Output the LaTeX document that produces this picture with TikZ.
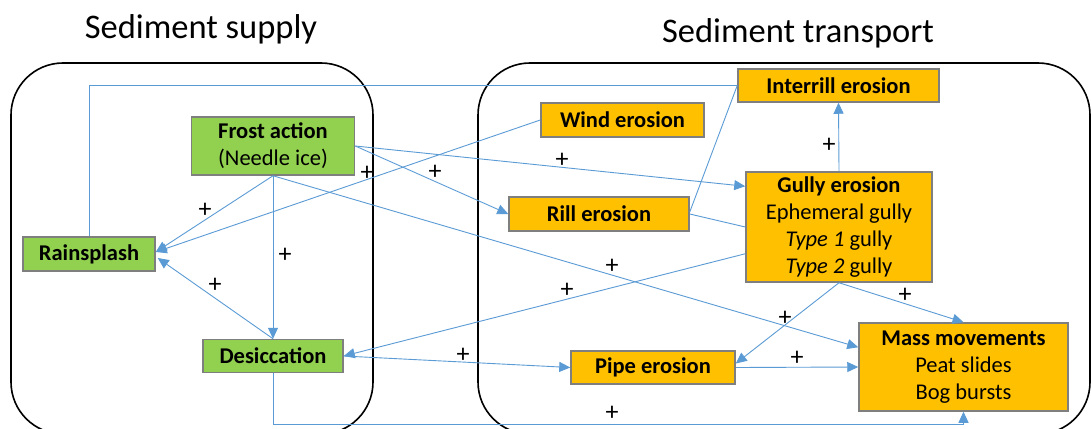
\documentclass[tikz,border=0pt]{standalone}
\usepackage{fontspec}
\setmainfont{Carlito}
\usetikzlibrary{arrows.meta,calc}
\definecolor{gbox}{HTML}{92D050}
\definecolor{obox}{HTML}{FFC000}
\definecolor{bord}{HTML}{7F7F7F}
\definecolor{conn}{HTML}{5B9BD5}
\tikzset{
  basebox/.style={draw=bord, line width=1.5pt, inner sep=0pt, align=center, font=\fontsize{22.5}{27}\selectfont},
  greenbox/.style={basebox, fill=gbox},
  orangebox/.style={basebox, fill=obox},
  link/.style={draw=conn, line width=0.9pt},
  arr/.style={link, -{Triangle[length=11pt,width=10pt]}},
  plus/.style={font=\fontsize{26}{28}\selectfont, inner sep=0pt},
  container/.style={draw=black, line width=1.6pt, rounded corners=52pt},
  title/.style={font=\fontsize{34.5}{38}\selectfont, inner sep=0pt}
}
\begin{document}
\begin{tikzpicture}[x=1pt,y=-1pt]
\clip (0,0) rectangle (1091,428);
\fill[white] (0,0) rectangle (1091,428);
% titles
\node[title] (t1) at (201,29) {Sediment supply};
\node[title] (t2) at (798,33) {Sediment transport};
% containers
\draw[container] (11,63) rectangle (373,434);
\draw[container] (478,63) rectangle (1090,434);
% nodes
\node[greenbox, minimum width=163pt, minimum height=58pt] (frost) at (273,146) {\textbf{Frost action}\\(Needle ice)};
\node[greenbox, minimum width=132pt, minimum height=34pt] (rain) at (89,254) {\textbf{Rainsplash}};
\node[greenbox, minimum width=140pt, minimum height=33pt] (desic) at (273,356) {\textbf{Desiccation}};
\node[orangebox, minimum width=163pt, minimum height=34pt] (wind) at (622.5,120) {\textbf{Wind erosion}};
\node[orangebox, minimum width=180pt, minimum height=34pt] (rill) at (599,214) {\textbf{Rill erosion}};
\node[orangebox, minimum width=201pt, minimum height=33pt] (inter) at (838.5,85.5) {\textbf{Interrill erosion}};
\node[orangebox, minimum width=186pt, minimum height=110pt] (gully) at (839,227) {\textbf{Gully erosion}\\Ephemeral gully\\\textit{Type 1} gully\\\textit{Type 2} gully};
\node[orangebox, minimum width=164pt, minimum height=33pt] (pipe) at (653,367.5) {\textbf{Pipe erosion}};
\node[orangebox, minimum width=209pt, minimum height=88pt] (mass) at (963.5,367) {\textbf{Mass movements}\\Peat slides\\Bog bursts};
% connectors
\draw[link] (rain.north) |- (inter.west);
\draw[arr] (frost.south) -- ($(rain.east)+(0,-2)$);
\draw[arr] (wind.west) -- ($(rain.east)+(0,-2)$);
\draw[arr] (frost.south) -- (desic.north);
\draw[arr] (desic.north) -- ($(rain.east)+(2,4)$);
\draw[arr] (frost.east) -- ($(gully.north west)+(0,15)$);
\draw[arr] (frost.east) -- (rill.west);
\draw[arr] (frost.south) -- ($(mass.north west)+(0,25)$);
\draw[link] ($(rill.east)+(0,-2)$) -- (inter.west);
\draw[link] (rill.east) -- (gully.west);
\draw[arr] (gully.south) -- (mass.north);
\draw[arr] (gully.south) -- ($(pipe.east)+(0,-4)$);
\draw[arr] ($(gully.south west)+(0,-29)$) -- (desic.east);
\draw[arr] (desic.east) -- (pipe.west);
\draw[arr] (pipe.east) -- (mass.west);
\draw[arr] (desic.south) -- ++(0,51) -| (mass.south);
\draw[arr] (gully.north) -- (inter.south);
% plus labels
\node[plus] (p1) at (205,210) {+};
\node[plus] (p2) at (367,173) {+};
\node[plus] (p3) at (285,255) {+};
\node[plus] (p4) at (215,285) {+};
\node[plus] (p5) at (562,160) {+};
\node[plus] (p6) at (435,172) {+};
\node[plus] (p7) at (612,266) {+};
\node[plus] (p8) at (829,145) {+};
\node[plus] (p9) at (905,295) {+};
\node[plus] (p10) at (785,318) {+};
\node[plus] (p11) at (567,290) {+};
\node[plus] (p12) at (463,355) {+};
\node[plus] (p13) at (797,358) {+};
\node[plus] (p14) at (612,413) {+};
\end{tikzpicture}
\end{document}
